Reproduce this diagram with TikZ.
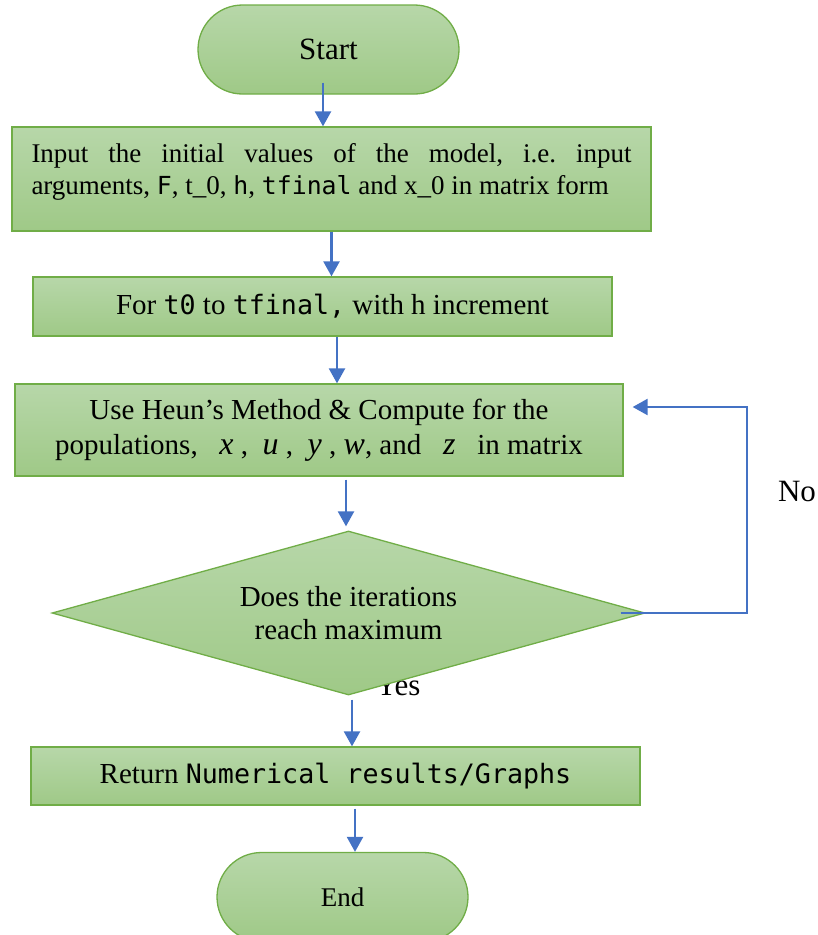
\documentclass[tikz,border=0pt]{standalone}
\usepackage{fontspec}
\setmainfont{Liberation Serif}
\setmonofont{DejaVu Sans Mono}[Scale=0.92]
\usepackage{tikz}
\usetikzlibrary{shapes.geometric,arrows.meta}
\definecolor{boxtop}{HTML}{B7D7A9}
\definecolor{boxbot}{HTML}{9FC987}
\definecolor{boxline}{HTML}{70AD47}
\definecolor{arrowblue}{HTML}{4472C4}
\frenchspacing
\newcommand{\popvar}[1]{{\fontsize{32}{35}\selectfont\textit{#1}}}

\begin{document}
\begin{tikzpicture}[x=1pt,y=-1pt,
	greenfill/.style={top color=boxtop,bottom color=boxbot,draw=boxline,line width=1.3pt},
	term/.style={greenfill,rectangle,rounded corners=44.5pt,minimum width=261pt,minimum height=89pt,inner sep=0pt},
	proc/.style={greenfill,rectangle,inner sep=0pt},
	decide/.style={greenfill,diamond,aspect=3.62,minimum width=593pt,minimum height=164pt,inner sep=0pt,align=center},
	flow/.style={draw=arrowblue,line width=2.4pt,-{Triangle[length=15pt,width=16pt]}},
	lbl/.style={font=\fontsize{31}{36}\selectfont,inner sep=0pt}]
	\clip (0,0) rectangle (818,935);
	\node[term,font=\fontsize{31}{36}\selectfont] (start) at (328.5,49.5) {Start};
	\node[proc,minimum width=639pt,minimum height=104pt,text width=600pt,align=justify,text height=20pt,text depth=54pt,font=\fontsize{27}{32}\selectfont] (input) at (331.5,179) {Input the initial values of the model, i.e. input\linebreak arguments, \texttt{F}, t\_0, \texttt{h}, \texttt{tfinal} and x\_0 in matrix form};
	\node[proc,minimum width=579pt,minimum height=59pt,font=\fontsize{29}{33}\selectfont] (for) at (322.5,306.5) {\hspace*{20pt}For \texttt{t0} to \texttt{tfinal,} with h increment};
	\node[proc,minimum width=608pt,minimum height=92pt,align=center,font=\fontsize{29}{35}\selectfont] (heun) at (319,430) {Use Heun’s Method \& Compute for the\\populations,\ \ \ \popvar{x}\ ,\ \ \popvar{u}\ ,\ \ \popvar{y}\ ,\ \popvar{w},\ and\ \ \ \popvar{z}\ \ \ in matrix};
	\node[lbl] (yes) at (398,685.5) {Yes};
	\node[decide,font=\fontsize{29}{33}\selectfont] (dec) at (348.5,613) {Does the iterations\\reach maximum};
	\node[lbl] (no) at (797,491) {No};
	\node[proc,minimum width=609pt,minimum height=58pt,font=\fontsize{29}{33}\selectfont] (ret) at (335.5,776) {Return \texttt{Numerical results/Graphs}};
	\node[term,minimum width=251pt,font=\fontsize{27}{32}\selectfont] (stop) at (342.5,897) {End};
	\coordinate (turn) at (747,407);
	\draw[flow] ([xshift=-5.5pt,yshift=12pt]start.south) -- ([xshift=-5.5pt]start.south |- input.north);
	\draw[flow] (input.south) -- (input.south |- for.north);
	\draw[flow] ([xshift=14.5pt]for.south) -- ([xshift=14.5pt]for.south |- heun.north);
	\draw[flow] ([xshift=-2.5pt,yshift=-3pt]dec.north |- heun.south) -- ([xshift=-2.5pt,yshift=4pt]dec.north);
	\draw[flow] ([xshift=3.5pt,yshift=-4pt]dec.south) -- ([xshift=3.5pt]dec.south |- ret.north);
	\draw[flow] ([xshift=12.5pt,yshift=-3pt]stop.north |- ret.south) -- ([xshift=12.5pt]stop.north);
	\draw[flow] ([xshift=-25pt]dec.east) -| (turn) -- ([xshift=9pt]heun.east |- turn);
\end{tikzpicture}
\end{document}
